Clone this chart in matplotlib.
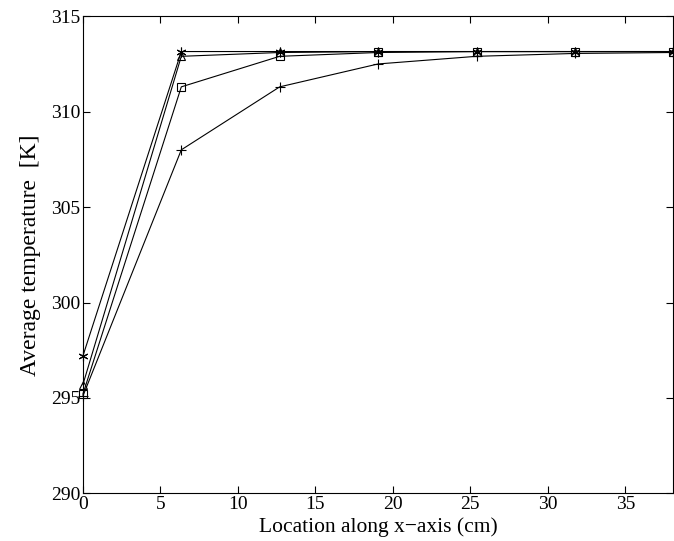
import matplotlib
matplotlib.use('Agg')
import matplotlib.pyplot as plt
import numpy as np

plt.rcParams['font.family'] = ['Liberation Serif', 'DejaVu Serif']

# locations along x-axis (cm)
x = [0, 6.35, 12.7, 19.05, 25.4, 31.75, 38.1]

# average temperature (K) for each run
temp_plus = [295.1, 308.0, 311.3, 312.5, 312.9, 313.05, 313.1]
temp_square = [295.2, 311.3, 312.9, 313.1, 313.15, 313.15, 313.15]
temp_triangle = [295.7, 312.9, 313.1, 313.15, 313.15, 313.15, 313.15]
temp_star = [297.2, 313.15, 313.15, 313.15, 313.15, 313.15, 313.15]

fig = plt.figure(figsize=(6.74, 5.41), dpi=100)
ax = fig.add_axes([0.123, 0.088, 0.876, 0.882])

kw = dict(color='k', lw=0.8, clip_on=False, mfc='none', mec='k', mew=0.8)
ax.plot(x, temp_plus, marker='+', ms=7, **kw)
ax.plot(x, temp_square, marker='s', ms=5.5, **kw)
ax.plot(x, temp_triangle, marker='^', ms=6, **kw)
ax.plot(x, temp_star, marker=(6, 2, 0), ms=7, **kw)

ax.set_xlim(0, 38.1)
ax.set_ylim(290, 315)
ax.set_xticks(np.arange(0, 36, 5))
ax.set_yticks(np.arange(290, 316, 5))
ax.tick_params(direction='in', top=True, right=True, labelsize=14, length=5, width=0.8, pad=2)
for s in ax.spines.values():
    s.set_linewidth(0.8)

ax.set_xlabel('Location along x\u2212axis (cm)', fontsize=15.5, labelpad=3)
ax.set_ylabel('Average temperature  [K]', fontsize=17, labelpad=7)

fig.savefig('out.png', dpi=100)
